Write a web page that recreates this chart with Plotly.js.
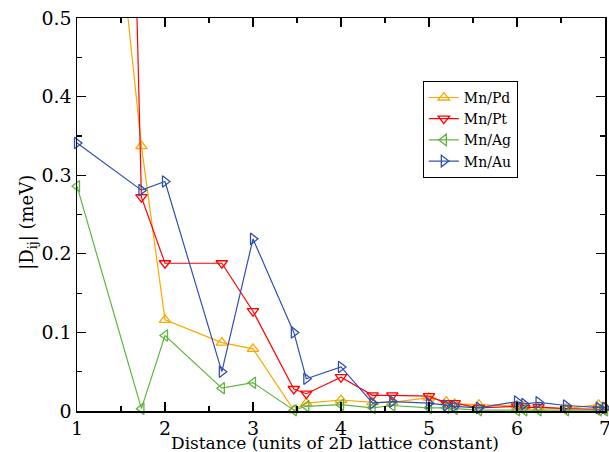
<!DOCTYPE html>
<html>
<head>
<meta charset="utf-8">
<script src="https://cdn.plot.ly/plotly-3.0.1.min.js"></script>
<style>html,body{margin:0;padding:0;background:#fff;}#chart{width:609px;height:452px;}</style>
</head>
<body>
<div id="chart"></div>
<script>
// Distances (units of 2D lattice constant)
const distances = [1, 1.732, 2, 2.646, 3, 3.464, 3.606, 4, 4.359, 4.583, 5, 5.196, 5.292, 5.568, 6, 6.083, 6.245, 6.557, 6.928, 7];
// |D_ij| (meV)
const mnPd = [1.12, 0.337, 0.116, 0.087, 0.079, 0.001, 0.010, 0.014, 0.011, 0.011, 0.017, 0.012, 0.009, 0.008, 0.007, 0.006, 0.004, 0.003, 0.008, 0.005];
const mnPt = [3.6, 0.272, 0.188, 0.188, 0.127, 0.028, 0.022, 0.043, 0.020, 0.020, 0.019, 0.010, 0.010, 0.004, 0.006, 0.004, 0.005, 0.003, 0.002, 0.002];
const mnAg = [0.286, 0.003, 0.096, 0.029, 0.036, 0.001, 0.006, 0.008, 0.004, 0.007, 0.004, 0.004, 0.003, 0.001, 0.001, 0.001, 0.001, 0.001, 0.001, 0.001];
const mnAu = [0.341, 0.281, 0.292, 0.050, 0.219, 0.100, 0.041, 0.056, 0.010, 0.012, 0.010, 0.007, 0.006, 0.004, 0.012, 0.009, 0.011, 0.007, 0.004, 0.004];
const seriesNames = ["Mn/Pd", "Mn/Pt", "Mn/Ag", "Mn/Au"];
const xTitle = "Distance (units of 2D lattice constant)";
const yTitle = "|D<sub>ij</sub>| (meV)";

const colors = ["#FFA500", "#FF0000", "#5DB540", "#3050B0"];
const symbols = ["triangle-up-open", "triangle-down-open", "triangle-left-open", "triangle-right-open"];
const values = [mnPd, mnPt, mnAg, mnAu];

const font = "DejaVu Serif";
const traces = values.map((v, i) => ({
  x: distances, y: v, name: seriesNames[i], type: "scatter", mode: "lines+markers",
  line: {color: colors[i], width: 1.2},
  marker: {symbol: symbols[i], size: 10, color: colors[i], line: {width: 1.3, color: colors[i]}},
  cliponaxis: false
}));

const layout = {
  width: 609, height: 452,
  margin: {l: 77, r: 4, t: 18, b: 41},
  paper_bgcolor: "#fff", plot_bgcolor: "#fff",
  font: {family: font, size: 18, color: "#000"},
  showlegend: true,
  legend: {x: 0.655, y: 0.84, xanchor: "left", yanchor: "top",
    bordercolor: "#000", borderwidth: 1, bgcolor: "#fff",
    font: {family: font, size: 14, color: "#000"}},
  xaxis: {
    showline: true, linecolor: "#000", linewidth: 1.5, mirror: "ticks",
    ticks: "inside", ticklen: 9, tickwidth: 1.2, tickcolor: "#000",
    showgrid: false, zeroline: false, ticklabeloverflow: "allow",
    tickfont: {family: font, size: 19, color: "#000"},
    range: [1, 7], dtick: 1, tick0: 1,
    minor: {dtick: 0.5, ticks: "inside", ticklen: 5, tickwidth: 1.2, tickcolor: "#000"}
  },
  yaxis: {
    showline: true, linecolor: "#000", linewidth: 1.5, mirror: "ticks",
    ticks: "inside", ticklen: 9, tickwidth: 1.2, tickcolor: "#000",
    showgrid: false, zeroline: false,
    tickfont: {family: font, size: 19, color: "#000"},
    range: [0, 0.5], dtick: 0.1, tick0: 0,
    minor: {dtick: 0.05, ticks: "inside", ticklen: 5, tickwidth: 1.2, tickcolor: "#000"}
  },
  annotations: [{
    text: xTitle, xref: "paper", yref: "paper", x: 0.489, y: -0.082,
    xanchor: "center", yanchor: "middle", showarrow: false,
    font: {family: font, size: 17, color: "#000"}
  }, {
    text: yTitle, xref: "paper", yref: "paper", x: -0.092, y: 0.48, textangle: -90,
    xanchor: "center", yanchor: "middle", showarrow: false,
    font: {family: font, size: 18, color: "#000"}
  }]
};

Plotly.newPlot("chart", traces, layout, {displayModeBar: false, staticPlot: true});
</script>
</body>
</html>
